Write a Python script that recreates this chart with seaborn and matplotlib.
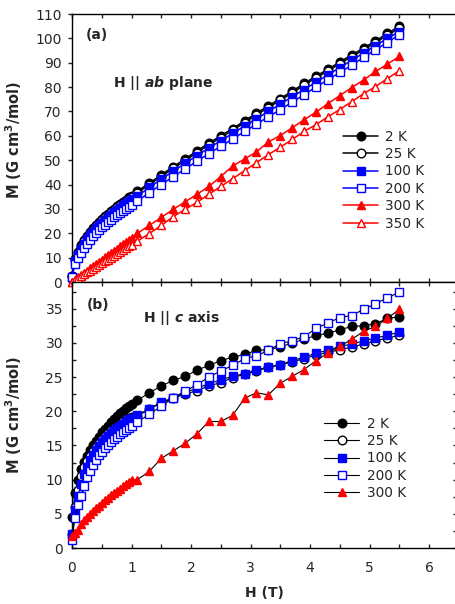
import matplotlib
matplotlib.use("Agg")
import matplotlib.pyplot as plt
from matplotlib.ticker import MultipleLocator, NullFormatter
import seaborn as sns
import pandas as pd

# Applied field (T): dense sweep up to 1 T, then 0.2 T steps
field = [0.0, 0.05, 0.1, 0.15, 0.2, 0.25, 0.3, 0.35, 0.4, 0.45, 0.5,
         0.55, 0.6, 0.65, 0.7, 0.75, 0.8, 0.85, 0.9, 0.95, 1.0,
         1.1, 1.3, 1.5, 1.7, 1.9, 2.1, 2.3, 2.5, 2.7, 2.9, 3.1, 3.3,
         3.5, 3.7, 3.9, 4.1, 4.3, 4.5, 4.7, 4.9, 5.1, 5.3, 5.5]

# (a) H || ab plane, M in G cm^3/mol
ab_2K = [2.5, 9.5, 12.5, 15.0, 17.2, 19.0, 20.6, 22.0, 23.4, 24.6, 25.8,
         27.0, 28.1, 29.1, 30.1, 31.1, 32.0, 32.9, 33.8, 34.7, 35.5,
         37.3, 40.6, 44.0, 47.3, 50.5, 53.8, 57.0, 60.0, 63.0, 66.1, 69.3, 72.3,
         75.3, 78.3, 81.5, 84.5, 87.3, 90.3, 93.2, 96.0, 99.0, 102.0, 105.0]
ab_25K = [2.3, 9.0, 12.0, 14.5, 16.7, 18.5, 20.1, 21.5, 22.9, 24.1, 25.3,
          26.5, 27.6, 28.6, 29.6, 30.6, 31.5, 32.4, 33.3, 34.2, 35.0,
          36.6, 40.0, 43.3, 46.6, 49.8, 53.1, 56.3, 59.3, 62.3, 65.4, 68.6, 71.6,
          74.6, 77.6, 80.8, 83.8, 86.6, 89.6, 92.5, 95.3, 98.3, 101.3, 104.2]
ab_100K = [2.2, 8.5, 11.2, 13.7, 15.8, 17.6, 19.2, 20.6, 22.0, 23.2, 24.4,
           25.5, 26.6, 27.6, 28.6, 29.6, 30.5, 31.4, 32.3, 33.1, 33.9,
           35.3, 38.8, 42.2, 45.5, 48.7, 51.9, 55.0, 58.0, 61.0, 64.0, 67.0, 70.0,
           73.0, 76.0, 79.0, 82.0, 85.0, 88.0, 91.0, 94.0, 97.0, 100.0, 102.8]
ab_200K = [2.0, 7.2, 9.8, 12.0, 14.0, 15.8, 17.3, 18.7, 20.0, 21.2, 22.4,
           23.5, 24.5, 25.5, 26.5, 27.4, 28.3, 29.2, 30.1, 30.9, 31.7,
           33.2, 36.7, 40.0, 43.2, 46.4, 49.6, 52.7, 55.7, 58.7, 61.8, 64.8, 67.8,
           70.8, 73.8, 76.9, 80.0, 83.0, 86.0, 89.0, 92.2, 95.3, 98.3, 101.5]
ab_300K = [0.0, 1.0, 2.0, 2.9, 3.8, 4.7, 5.6, 6.5, 7.4, 8.3, 9.2,
           10.1, 11.0, 11.9, 12.8, 13.7, 14.6, 15.5, 16.4, 17.3, 18.2,
           20.0, 23.2, 26.5, 29.8, 32.9, 36.0, 39.2, 43.3, 47.6, 50.5, 53.4, 57.5,
           60.1, 63.3, 66.6, 69.7, 73.2, 76.5, 79.8, 82.9, 86.4, 89.4, 92.6]
ab_350K = [0.0, 0.8, 1.6, 2.4, 3.1, 3.9, 4.7, 5.4, 6.2, 7.0, 7.7,
           8.5, 9.2, 10.0, 10.8, 11.5, 12.3, 13.0, 13.8, 14.6, 15.3,
           16.8, 19.9, 23.2, 26.8, 29.8, 32.7, 36.0, 39.2, 42.4, 45.7, 49.0, 52.3,
           55.3, 58.5, 61.8, 64.6, 67.8, 70.8, 74.0, 77.3, 80.2, 83.5, 86.7]

# (b) H || c axis
c_2K = [4.5, 8.0, 10.0, 11.5, 12.6, 13.5, 14.3, 15.0, 15.7, 16.3, 16.9,
        17.4, 17.9, 18.4, 18.9, 19.3, 19.7, 20.1, 20.5, 20.8, 21.1,
        21.6, 22.7, 23.7, 24.5, 25.1, 26.0, 26.7, 27.4, 27.9, 28.3, 28.9, 29.0,
        29.4, 30.0, 30.5, 31.1, 31.4, 31.9, 32.4, 32.5, 32.8, 33.6, 33.8]
c_25K = [2.0, 6.0, 8.5, 10.5, 11.8, 12.7, 13.5, 14.2, 14.8, 15.4, 15.9,
         16.4, 16.8, 17.2, 17.6, 17.9, 18.2, 18.5, 18.8, 19.0, 19.2,
         19.3, 20.3, 21.2, 21.9, 22.5, 23.0, 23.7, 24.2, 24.9, 25.4, 25.9, 26.4,
         26.8, 27.2, 27.7, 28.2, 28.6, 29.0, 29.4, 29.8, 30.3, 30.7, 31.1]
c_100K = [2.0, 5.6, 7.6, 9.4, 10.8, 11.9, 12.8, 13.6, 14.3, 14.9, 15.5,
          16.0, 16.4, 16.8, 17.2, 17.6, 17.9, 18.2, 18.5, 18.8, 19.0,
          19.4, 20.4, 21.3, 22.0, 22.7, 23.4, 24.0, 24.6, 25.1, 25.5, 26.0, 26.5,
          26.8, 27.4, 27.9, 28.5, 28.9, 29.5, 29.8, 30.3, 30.7, 31.1, 31.6]
c_200K = [1.1, 4.4, 6.3, 7.6, 9.0, 10.4, 11.3, 12.1, 12.9, 13.6, 14.1,
          14.6, 15.1, 15.5, 16.0, 16.3, 16.6, 17.0, 17.3, 17.6, 17.9,
          18.4, 19.6, 20.7, 22.0, 22.9, 23.9, 25.0, 25.9, 26.7, 27.7, 28.1, 28.9,
          29.9, 30.3, 30.9, 32.1, 32.9, 33.7, 34.0, 34.9, 35.7, 36.6, 37.4]
c_300K = [1.8, 2.2, 2.6, 3.5, 4.1, 4.6, 5.0, 5.4, 5.8, 6.2, 6.6,
          7.0, 7.3, 7.7, 8.0, 8.3, 8.7, 9.0, 9.3, 9.6, 9.9,
          10.0, 11.2, 13.1, 14.2, 15.3, 16.7, 18.5, 18.5, 19.4, 21.9, 22.7, 22.4,
          24.1, 25.1, 26.1, 27.4, 28.5, 29.5, 30.5, 31.7, 32.4, 33.6, 34.9]

temps_ab = ["2 K", "25 K", "100 K", "200 K", "300 K", "350 K"]
temps_c = ["2 K", "25 K", "100 K", "200 K", "300 K"]

sns.set_style("ticks")
plt.rcParams["font.family"] = ["DejaVu Sans"]
plt.rcParams["mathtext.fontset"] = "custom"
plt.rcParams["mathtext.rm"] = "DejaVu Sans:bold"
plt.rcParams["mathtext.bf"] = "DejaVu Sans:bold"
plt.rcParams["mathtext.it"] = "DejaVu Sans:italic:bold"

BLUE = "#0000ff"
RED = "#ff0000"

# marker, face, edge, size
styles = {
    "2 K": ("o", "black", "black", 6.2),
    "25 K": ("o", "white", "black", 6.2),
    "100 K": ("s", BLUE, BLUE, 5.5),
    "200 K": ("s", "white", BLUE, 5.5),
    "300 K": ("^", RED, RED, 6.3),
    "350 K": ("^", "white", RED, 6.3),
}
line_colors_ab = {"2 K": "black", "25 K": "black", "100 K": BLUE,
                  "200 K": BLUE, "300 K": RED, "350 K": RED}

W, H = 456, 604
fig = plt.figure(figsize=(W / 100, H / 100), dpi=100)
left, right = 72, 457
ax_a = fig.add_axes([left / W, 1 - 282 / H, (right - left) / W, (282 - 14) / H])
ax_b = fig.add_axes([left / W, 1 - 548 / H, (right - left) / W, (548 - 282) / H])

df_ab = pd.DataFrame({"H": field, "2 K": ab_2K, "25 K": ab_25K, "100 K": ab_100K,
                      "200 K": ab_200K, "300 K": ab_300K, "350 K": ab_350K})
df_c = pd.DataFrame({"H": field, "2 K": c_2K, "25 K": c_25K, "100 K": c_100K,
                     "200 K": c_200K, "300 K": c_300K})

for t in temps_ab:
    m, fc, ec, ms = styles[t]
    sns.lineplot(data=df_ab, x="H", y=t, ax=ax_a, sort=False, errorbar=None,
                 color=line_colors_ab[t], linewidth=1.1, marker=m, markersize=ms,
                 markerfacecolor=fc, markeredgecolor=ec, markeredgewidth=1.0,
                 label=t, clip_on=False, zorder=3)

for t in temps_c:
    m, fc, ec, ms = styles[t]
    sns.lineplot(data=df_c, x="H", y=t, ax=ax_b, sort=False, errorbar=None,
                 color="black", linewidth=0.8, marker=m, markersize=ms,
                 markerfacecolor=fc, markeredgecolor=ec, markeredgewidth=1.0,
                 label=t, clip_on=False, zorder=3)

for ax in (ax_a, ax_b):
    ax.set_xlim(0, 6.47)
    for s in ax.spines.values():
        s.set_linewidth(1.0)
        s.set_color("black")

# panel (a) axes
ax_a.set_ylim(0, 110)
ax_a.yaxis.set_major_locator(MultipleLocator(10))
ax_a.xaxis.set_major_locator(MultipleLocator(0.5))
ax_a.xaxis.set_major_formatter(NullFormatter())
ax_a.tick_params(axis="x", which="both", direction="in", top=True, bottom=True,
                 length=3, width=1.0, labelbottom=False)
ax_a.tick_params(axis="y", which="both", direction="out", left=True, right=False,
                 length=3, width=1.0, pad=4.5, labelsize=10)
ax_a.set_xlabel("")
ax_a.set_ylabel(r"M (G cm$^{3}$/mol)", fontsize=10.5, fontweight="bold")
ax_a.yaxis.set_label_coords(-0.125, 0.53)

# panel (b) axes
ax_b.set_ylim(0, 38.9)
ax_b.yaxis.set_major_locator(MultipleLocator(5))
ax_b.yaxis.set_minor_locator(MultipleLocator(2.5))
ax_b.xaxis.set_major_locator(MultipleLocator(1))
ax_b.xaxis.set_minor_locator(MultipleLocator(0.5))
ax_b.tick_params(axis="x", which="both", direction="in", top=True, bottom=True,
                 length=3, width=1.0, pad=9, labelsize=10)
ax_b.tick_params(axis="y", which="both", direction="in", left=True, right=True,
                 length=3, width=1.0, pad=6.5, labelsize=10)
ax_b.set_xlabel("H (T)", fontsize=10, fontweight="bold", labelpad=8)
ax_b.set_ylabel(r"M (G cm$^{3}$/mol)", fontsize=10.5, fontweight="bold")
ax_b.yaxis.set_label_coords(-0.125, 0.50)

# annotations
ax_a.text(0.036, 0.92, "(a)", transform=ax_a.transAxes, fontsize=10,
          fontweight="bold", va="center", ha="left")
ax_a.text(0.106, 0.743, r"H || $\it{ab}$ plane", transform=ax_a.transAxes,
          fontsize=10, fontweight="bold", va="center", ha="left")
ax_b.text(0.039, 0.914, "(b)", transform=ax_b.transAxes, fontsize=10,
          fontweight="bold", va="center", ha="left")
ax_b.text(0.184, 0.865, r"H || $\it{c}$ axis", transform=ax_b.transAxes,
          fontsize=10, fontweight="bold", va="center", ha="left")

ax_a.legend(loc="upper left", bbox_to_anchor=(0.704, 0.569), frameon=False,
            fontsize=9.8, handlelength=2.6, handletextpad=0.5, labelspacing=0.25,
            borderpad=0, borderaxespad=0)
ax_b.legend(loc="upper left", bbox_to_anchor=(0.6545, 0.494), frameon=False,
            fontsize=9.8, handlelength=2.6, handletextpad=0.55, labelspacing=0.25,
            borderpad=0, borderaxespad=0)

fig.savefig("out.png", dpi=100)
